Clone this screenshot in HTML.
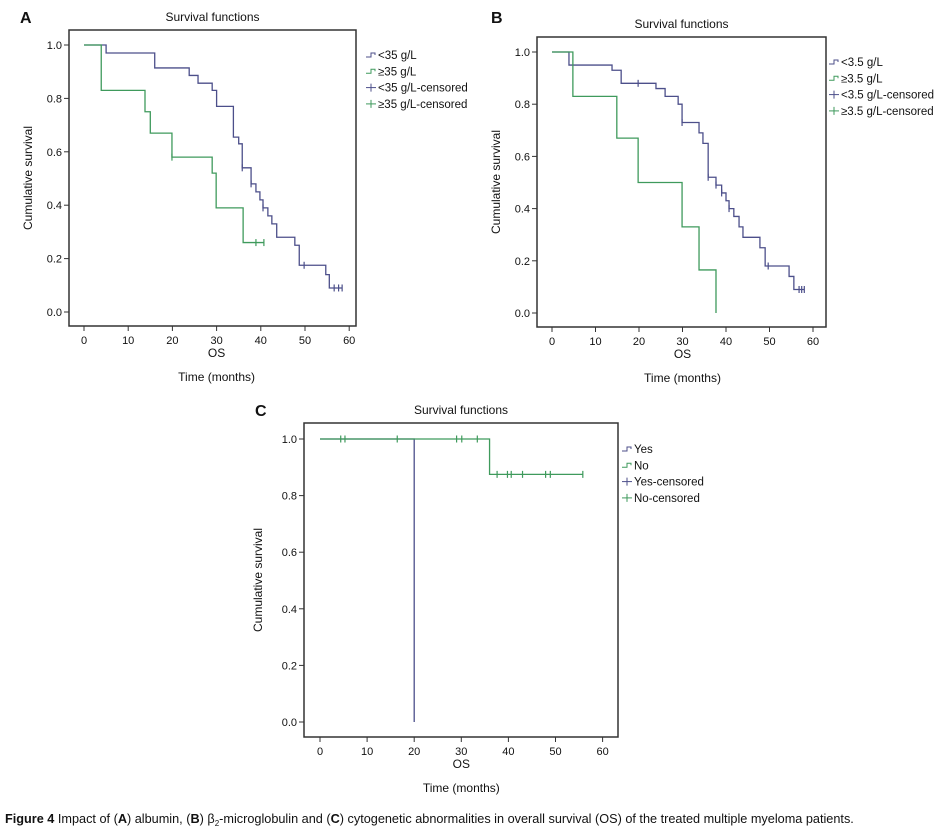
<!DOCTYPE html>
<html><head><meta charset="utf-8">
<style>
body{margin:0;background:#fff;width:945px;height:832px;overflow:hidden;font-family:"Liberation Sans",sans-serif;}
svg text{font-family:"Liberation Sans",sans-serif;}
</style></head>
<body>
<svg id="fig" width="945" height="832"></svg>
<script>
// Panel A data
const aBlueTimes=[0,5,16,23.8,25.8,29,30,33.8,35,35.8,37.8,38.9,39.8,40.5,41.6,42.5,43.6,47.7,48.7,54.7,55.5];
const aBlueSurv=[1,0.97,0.914,0.886,0.857,0.83,0.77,0.655,0.63,0.54,0.48,0.45,0.42,0.39,0.36,0.33,0.28,0.25,0.175,0.14,0.09];
const aBlueEnd=58.4;
const aBlueCens=[35.8,37.8,40.5,49.8,56.6,57.6,58.4];
const aGreenTimes=[0,3.9,13.8,15,19.9,29,29.9,36];
const aGreenSurv=[1,0.83,0.75,0.67,0.58,0.52,0.39,0.26];
const aGreenEnd=40.7;
const aGreenCens=[19.9,38.9,40.7];
// Panel B data
const bBlueTimes=[0,3.9,13.8,15.9,23.9,26,29,29.9,33.8,34.7,35.9,37.7,39,40,40.7,41.8,43,43.9,47.8,49,54.5,55.6];
const bBlueSurv=[1,0.95,0.93,0.88,0.86,0.83,0.80,0.73,0.69,0.65,0.52,0.49,0.46,0.43,0.40,0.37,0.33,0.29,0.25,0.18,0.14,0.09];
const bBlueEnd=58;
const bBlueCens=[19.8,29.9,35.9,37.7,39,40.7,49.7,56.8,57.4,58];
const bGreenTimes=[0,4.8,14.9,19.8,29.9,33.8,37.7];
const bGreenSurv=[1,0.83,0.67,0.5,0.33,0.165,0];
const bGreenEnd=37.7;
const bGreenCens=[];
// Panel C data
const cBlueTimes=[0,20];
const cBlueSurv=[1,0];
const cBlueEnd=20;
const cBlueCens=[];
const cGreenTimes=[0,36];
const cGreenSurv=[1,0.875];
const cGreenEnd=55.8;
const cGreenCens=[4.4,5.3,16.4,29,30.1,33.4,37.6,39.8,40.6,43,47.9,48.9,55.8];
const xTicks=[0,10,20,30,40,50,60];
const yTicksAB=[0,0.2,0.4,0.6,0.8,1.0];
const yTicksC=[0,0.2,0.4,0.6,0.8,1.0];

const NS='http://www.w3.org/2000/svg';
const svg=document.getElementById('fig');
const BLUE='#4c4f8a', GREEN='#3f9a5c';
function mk(tag,attrs,parent){const e=document.createElementNS(NS,tag);for(const k in attrs)e.setAttribute(k,attrs[k]);(parent||svg).appendChild(e);return e;}
function txt(x,y,s,size,anchor,parent,weight){const t=mk('text',{x:x,y:y,'font-size':size,'text-anchor':anchor||'middle',fill:'#111'},parent);if(weight)t.setAttribute('font-weight',weight);t.textContent=s;return t;}

function panel(p){
  const g=mk('g',{});
  
  
  const X=v=>p.x0+v*p.xs, Y=v=>p.y0-v*p.ys;
  const fr=mk('rect',{x:p.fl,y:p.ft,width:p.fr-p.fl,height:p.fb-p.ft,fill:'none',stroke:'#333','stroke-width':1.5},g);
  
  
  const ttl=txt((p.fl+p.fr)/2,p.ft-9,'Survival functions',12,'middle',g);
  
  
  const lb=txt(p.lx,p.ly,p.id.toUpperCase(),16,'start',g,'bold');
  
  
  p.yticks.forEach(v=>{
    const tk=mk('line',{x1:p.fl-5,x2:p.fl,y1:Y(v),y2:Y(v),stroke:'#333'},g);
    
    
    const t=txt(p.fl-7,Y(v)+4,v.toFixed(1),11,'end',g);
    
    
  });
  xTicks.forEach(v=>{
    const tk=mk('line',{x1:X(v),x2:X(v),y1:p.fb,y2:p.fb+5,stroke:'#333'},g);
    
    
    const t=txt(X(v),p.fb+18,String(v),11,'middle',g);
    
    
  });
  const os=txt(X(30),p.fb+31,'OS',12,'middle',g);
  
  
  const tm=txt(X(30),p.fb+55,'Time (months)',12,'middle',g);
  
  
  const cy=(p.ft+p.fb)/2;
  const yt=txt(0,0,'Cumulative survival',12,'middle',g);
  yt.setAttribute('transform','translate('+p.ytx+','+cy+') rotate(-90)');
  
  
  p.series.forEach(s=>{
    let d='M'+X(s.t[0])+','+Y(s.s[0]);
    for(let i=1;i<s.t.length;i++){d+=' H'+X(s.t[i])+' V'+Y(s.s[i]);}
    d+=' H'+X(s.end);
    const path=mk('path',{d:d,fill:'none',stroke:s.c,'stroke-width':1.3},g);
    
    
    s.cens.forEach(t=>{
      let sv=s.s[0];
      for(let i=0;i<s.t.length;i++){if(s.t[i]<=t)sv=s.s[i];}
      const m=mk('line',{x1:X(t),x2:X(t),y1:Y(sv)-3.5,y2:Y(sv)+3.5,stroke:s.c,'stroke-width':1.2},g);
      
      
    });
  });
  p.legend.forEach((L,i)=>{
    const y=p.legY+i*16.3;
    const lg=mk('g',{},g);
    
    
    if(L.type==='step'){
      mk('path',{d:'M'+(p.legX)+','+(y+2)+' h5 v-4 h4 v2',fill:'none',stroke:L.c,'stroke-width':1},lg);
    }else{
      mk('line',{x1:p.legX,x2:p.legX+10,y1:y,y2:y,stroke:L.c},lg);
      mk('line',{x1:p.legX+5,x2:p.legX+5,y1:y-4,y2:y+4,stroke:L.c},lg);
    }
    txt(p.legX+12,y+4,L.label,11.5,'start',lg);
  });
}

panel({id:'a',x0:84,xs:4.42,y0:312,ys:267,fl:69,fr:356,ft:30,fb:326,lx:20,ly:23,ytx:32,yticks:yTicksAB,
  legX:366,legY:55,
  series:[{name:'lt35',t:aBlueTimes,s:aBlueSurv,end:aBlueEnd,cens:aBlueCens,c:BLUE},
          {name:'ge35',t:aGreenTimes,s:aGreenSurv,end:aGreenEnd,cens:aGreenCens,c:GREEN}],
  legend:[{type:'step',c:BLUE,label:'<35 g/L'},{type:'step',c:GREEN,label:'\u226535 g/L'},
          {type:'cens',c:BLUE,label:'<35 g/L-censored'},{type:'cens',c:GREEN,label:'\u226535 g/L-censored'}]});
panel({id:'b',x0:552,xs:4.35,y0:313,ys:261,fl:537,fr:826,ft:37,fb:327,lx:491,ly:23,ytx:500,yticks:yTicksAB,
  legX:829,legY:62,
  series:[{name:'lt3-5',t:bBlueTimes,s:bBlueSurv,end:bBlueEnd,cens:bBlueCens,c:BLUE},
          {name:'ge3-5',t:bGreenTimes,s:bGreenSurv,end:bGreenEnd,cens:bGreenCens,c:GREEN}],
  legend:[{type:'step',c:BLUE,label:'<3.5 g/L'},{type:'step',c:GREEN,label:'\u22653.5 g/L'},
          {type:'cens',c:BLUE,label:'<3.5 g/L-censored'},{type:'cens',c:GREEN,label:'\u22653.5 g/L-censored'}]});
panel({id:'c',x0:320,xs:4.71,y0:722,ys:283,fl:304,fr:618,ft:423,fb:737,lx:255,ly:416,ytx:262,yticks:yTicksC,
  legX:622,legY:449,
  series:[{name:'yes',t:cBlueTimes,s:cBlueSurv,end:cBlueEnd,cens:cBlueCens,c:BLUE},
          {name:'no',t:cGreenTimes,s:cGreenSurv,end:cGreenEnd,cens:cGreenCens,c:GREEN}],
  legend:[{type:'step',c:BLUE,label:'Yes'},{type:'step',c:GREEN,label:'No'},
          {type:'cens',c:BLUE,label:'Yes-censored'},{type:'cens',c:GREEN,label:'No-censored'}]});

const cap=mk('text',{x:5,y:823,'font-size':12.7,fill:'#111'});


cap.innerHTML='<tspan font-weight="bold">Figure 4</tspan> Impact of (<tspan font-weight="bold">A</tspan>) albumin, (<tspan font-weight="bold">B</tspan>) \u03B2<tspan font-size="8" dy="3">2</tspan><tspan dy="-3">-microglobulin and (</tspan><tspan font-weight="bold">C</tspan>) cytogenetic abnormalities in overall survival (OS) of the treated multiple myeloma patients.';
</script>
</body></html>
